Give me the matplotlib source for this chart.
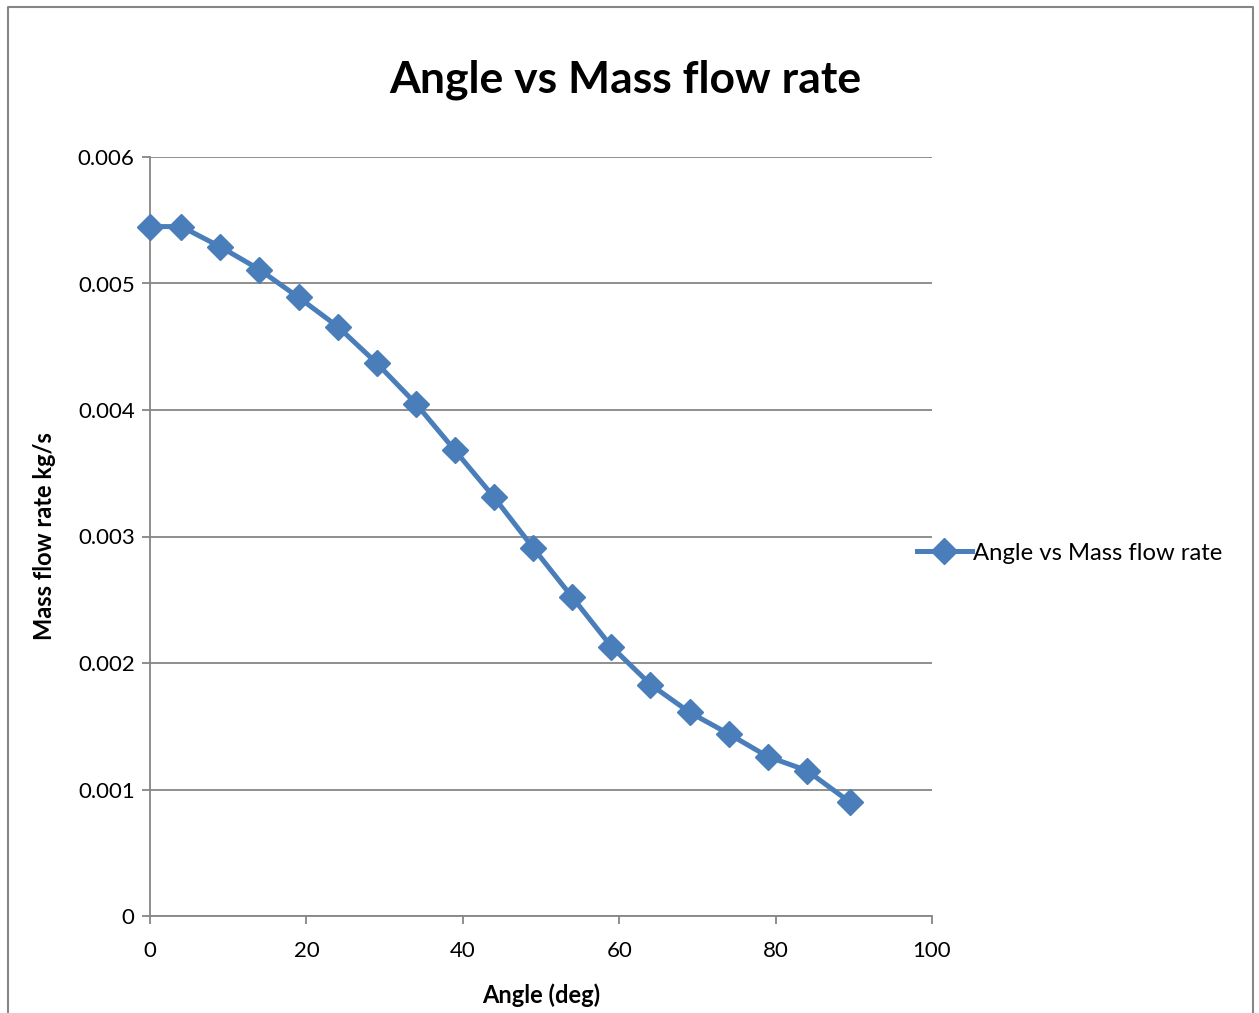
import numpy as np
import matplotlib.pyplot as plt

angle = [0, 4, 9, 14, 19, 24, 29, 34, 39, 44, 49, 54, 59, 64, 69, 74, 79, 84, 89.5]
mass_flow = [0.00545, 0.00545, 0.00529, 0.00511, 0.00489, 0.00466, 0.00437, 0.00405,
             0.00368, 0.00331, 0.00291, 0.00252, 0.00213, 0.00183, 0.00161, 0.00144,
             0.00126, 0.00115, 0.00090]
x_ticks = [0, 20, 40, 60, 80, 100]
y_ticks = [0, 0.001, 0.002, 0.003, 0.004, 0.005, 0.006]

plt.rcParams['font.family'] = ['Lato', 'DejaVu Sans']

fig = plt.figure(figsize=(12.59, 10.13), dpi=100)
ax = fig.add_axes([150 / 1259, 1 - 916 / 1013, (932 - 150) / 1259, (916 - 157) / 1013])

grey = '#868686'
line, = ax.plot(angle, mass_flow, color='#4A7EBB', lw=3.6, marker='D', markersize=13,
                label='Angle vs Mass flow rate', zorder=3, clip_on=False)

ax.set_xlim(0, 100)
ax.set_ylim(0, 0.006)
ax.set_xticks(x_ticks)
ax.set_yticks(y_ticks)
ax.set_xticklabels([str(t) for t in x_ticks])
ax.set_yticklabels(['0'] + ['%.3f' % t for t in y_ticks[1:]])
ax.yaxis.grid(True, color=grey, lw=1.3)
ax.set_axisbelow(True)
for s in ['top', 'right']:
    ax.spines[s].set_visible(False)
for s in ['left', 'bottom']:
    ax.spines[s].set_color(grey)
    ax.spines[s].set_linewidth(1.3)
ax.tick_params(axis='both', direction='out', length=6, width=1.3, color=grey,
               labelsize=16, pad=5)
ax.tick_params(axis='x', pad=12)

ax.set_xlabel('Angle (deg)', fontsize=17, fontweight='bold', labelpad=16)
ax.set_ylabel('Mass flow rate kg/s', fontsize=17, fontweight='bold', labelpad=16)
fig.text(625 / 1259, 1 - 80 / 1013, 'Angle vs Mass flow rate', fontsize=32,
         fontweight='bold', ha='center', va='center')

ax.legend(handles=[line], loc='center left', bbox_to_anchor=(905 / 1259, 1 - 553 / 1013),
          bbox_transform=fig.transFigure, frameon=False, fontsize=17.2,
          handlelength=2.3, handletextpad=0.05, borderpad=0)

# outer chart border
bx = [8 / 1259, 8 / 1259, 1253 / 1259, 1253 / 1259]
by = [0, 1 - 7 / 1013, 1 - 7 / 1013, 0]
fig.add_artist(plt.Line2D(bx, by, color=grey, lw=1.5, transform=fig.transFigure))

fig.savefig('out.png', dpi=100)
